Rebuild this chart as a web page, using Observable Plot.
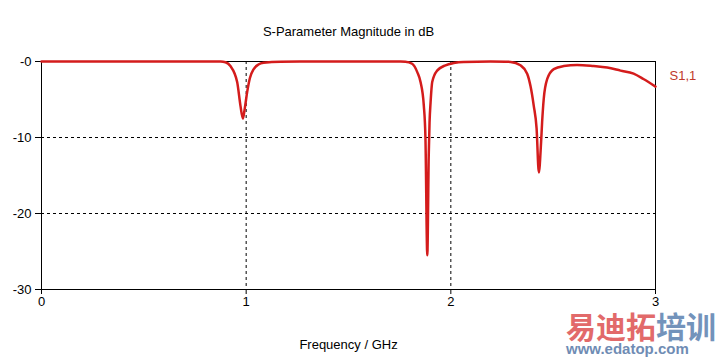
<!DOCTYPE html>
<html>
<head>
<meta charset="utf-8">
<script src="https://cdn.jsdelivr.net/npm/d3@7"></script>
<script src="https://cdn.jsdelivr.net/npm/@observablehq/plot@0.6"></script>
<style>
  html, body { margin: 0; padding: 0; background: #fff; }
  #wrap { position: relative; width: 720px; height: 360px; overflow: hidden; }
  #wm1 { position: absolute; left: 566px; top: 311px; font: bold 30px "Noto Sans CJK SC"; line-height: 28px; }
  #wm2 { position: absolute; left: 566px; top: 341px; font: bold 15px "Liberation Sans"; color: #6f8cb4; line-height: 16px; }
</style>
</head>
<body>
<div id="wrap">
  <div id="chart"></div>
  <div id="wm1"><span style="color:#e26a6a">易迪拓</span><span style="color:#7393bb">培训</span></div>
  <div id="wm2">www.edatop.com</div>
</div>
<script>
const title = "S-Parameter Magnitude in dB";
const xLabel = "Frequency / GHz";
const seriesName = "S1,1";
const xTicks = [0, 1, 2, 3];
const yTicks = [0, -10, -20, -30];

const freq = [0, 0.5, 0.85, 0.875, 0.899, 0.923, 0.956, 0.972, 0.984, 0.993, 1.005, 1.018, 1.037, 1.060, 1.085, 1.168, 1.4, 1.754,
  1.778, 1.811, 1.836, 1.852, 1.868, 1.876, 1.885, 1.892, 1.896, 1.901, 1.909, 1.933, 1.974, 2.014, 2.062, 2.194, 2.267,
  2.292, 2.340, 2.373, 2.389, 2.405, 2.419, 2.430, 2.441, 2.446, 2.454, 2.471, 2.503, 2.552, 2.617, 2.697, 2.764, 2.829, 2.893, 2.941, 3.0];
const s11 = [0, 0, 0, 0, -0.1, -0.6, -2.7, -5.8, -7.5, -6.2, -4.0, -2.2, -1.0, -0.4, -0.17, -0.02, 0, 0,
  -0.02, -0.3, -1.4, -2.7, -5.8, -10.1, -25.5, -12.4, -8.0, -5.4, -2.7, -1.2, -0.5, -0.2, -0.05, 0, -0.03,
  -0.05, -0.5, -1.6, -3.2, -5.8, -8.8, -14.6, -10.6, -8.0, -4.9, -2.3, -1.0, -0.6, -0.45, -0.6, -0.8, -1.2, -1.6, -2.3, -3.3];

const data = freq.map((f, i) => ({f, db: s11[i]}));
const red = "#d41c1c";
const yFmt = d => d === 0 ? "-0" : "-" + Math.abs(d);

const plot = Plot.plot({
  width: 720,
  height: 360,
  marginLeft: 41,
  marginRight: 65,
  marginTop: 61,
  marginBottom: 71,
  style: {fontFamily: "Liberation Sans, DejaVu Sans, sans-serif", fontSize: "13px", color: "#000", background: "#fff"},
  x: {domain: [0, 3], ticks: xTicks, tickFormat: d => String(d), label: null},
  y: {domain: [-30, 0], ticks: yTicks, tickFormat: yFmt, label: null},
  marks: [
    Plot.gridX([1, 2], {stroke: "#000", strokeOpacity: 1, strokeDasharray: "3,3"}),
    Plot.gridY([-10, -20], {stroke: "#000", strokeOpacity: 1, strokeDasharray: "3,3"}),
    Plot.frame({stroke: "#000"}),
    Plot.axisX({ticks: xTicks, tickSize: 5, tickPadding: 2, tickFormat: d => String(d), label: null, fontSize: 13}),
    Plot.axisY({ticks: yTicks, tickSize: 6, tickPadding: 4, tickFormat: yFmt, label: null, fontSize: 13}),
    Plot.line(data, {x: "f", y: "db", stroke: red, strokeWidth: 2.5, curve: "monotone-x"}),
    Plot.text([title], {frameAnchor: "top", dy: -35, text: d => d, fontSize: 13}),
    Plot.text([xLabel], {frameAnchor: "bottom", dy: 59, text: d => d, fontSize: 13}),
    Plot.text([seriesName], {frameAnchor: "top-right", dx: 14, dy: 9, textAnchor: "start", text: d => d, fill: "#c0392b", fontSize: 13})
  ]
});
document.getElementById("chart").appendChild(plot);
</script>
</body>
</html>
